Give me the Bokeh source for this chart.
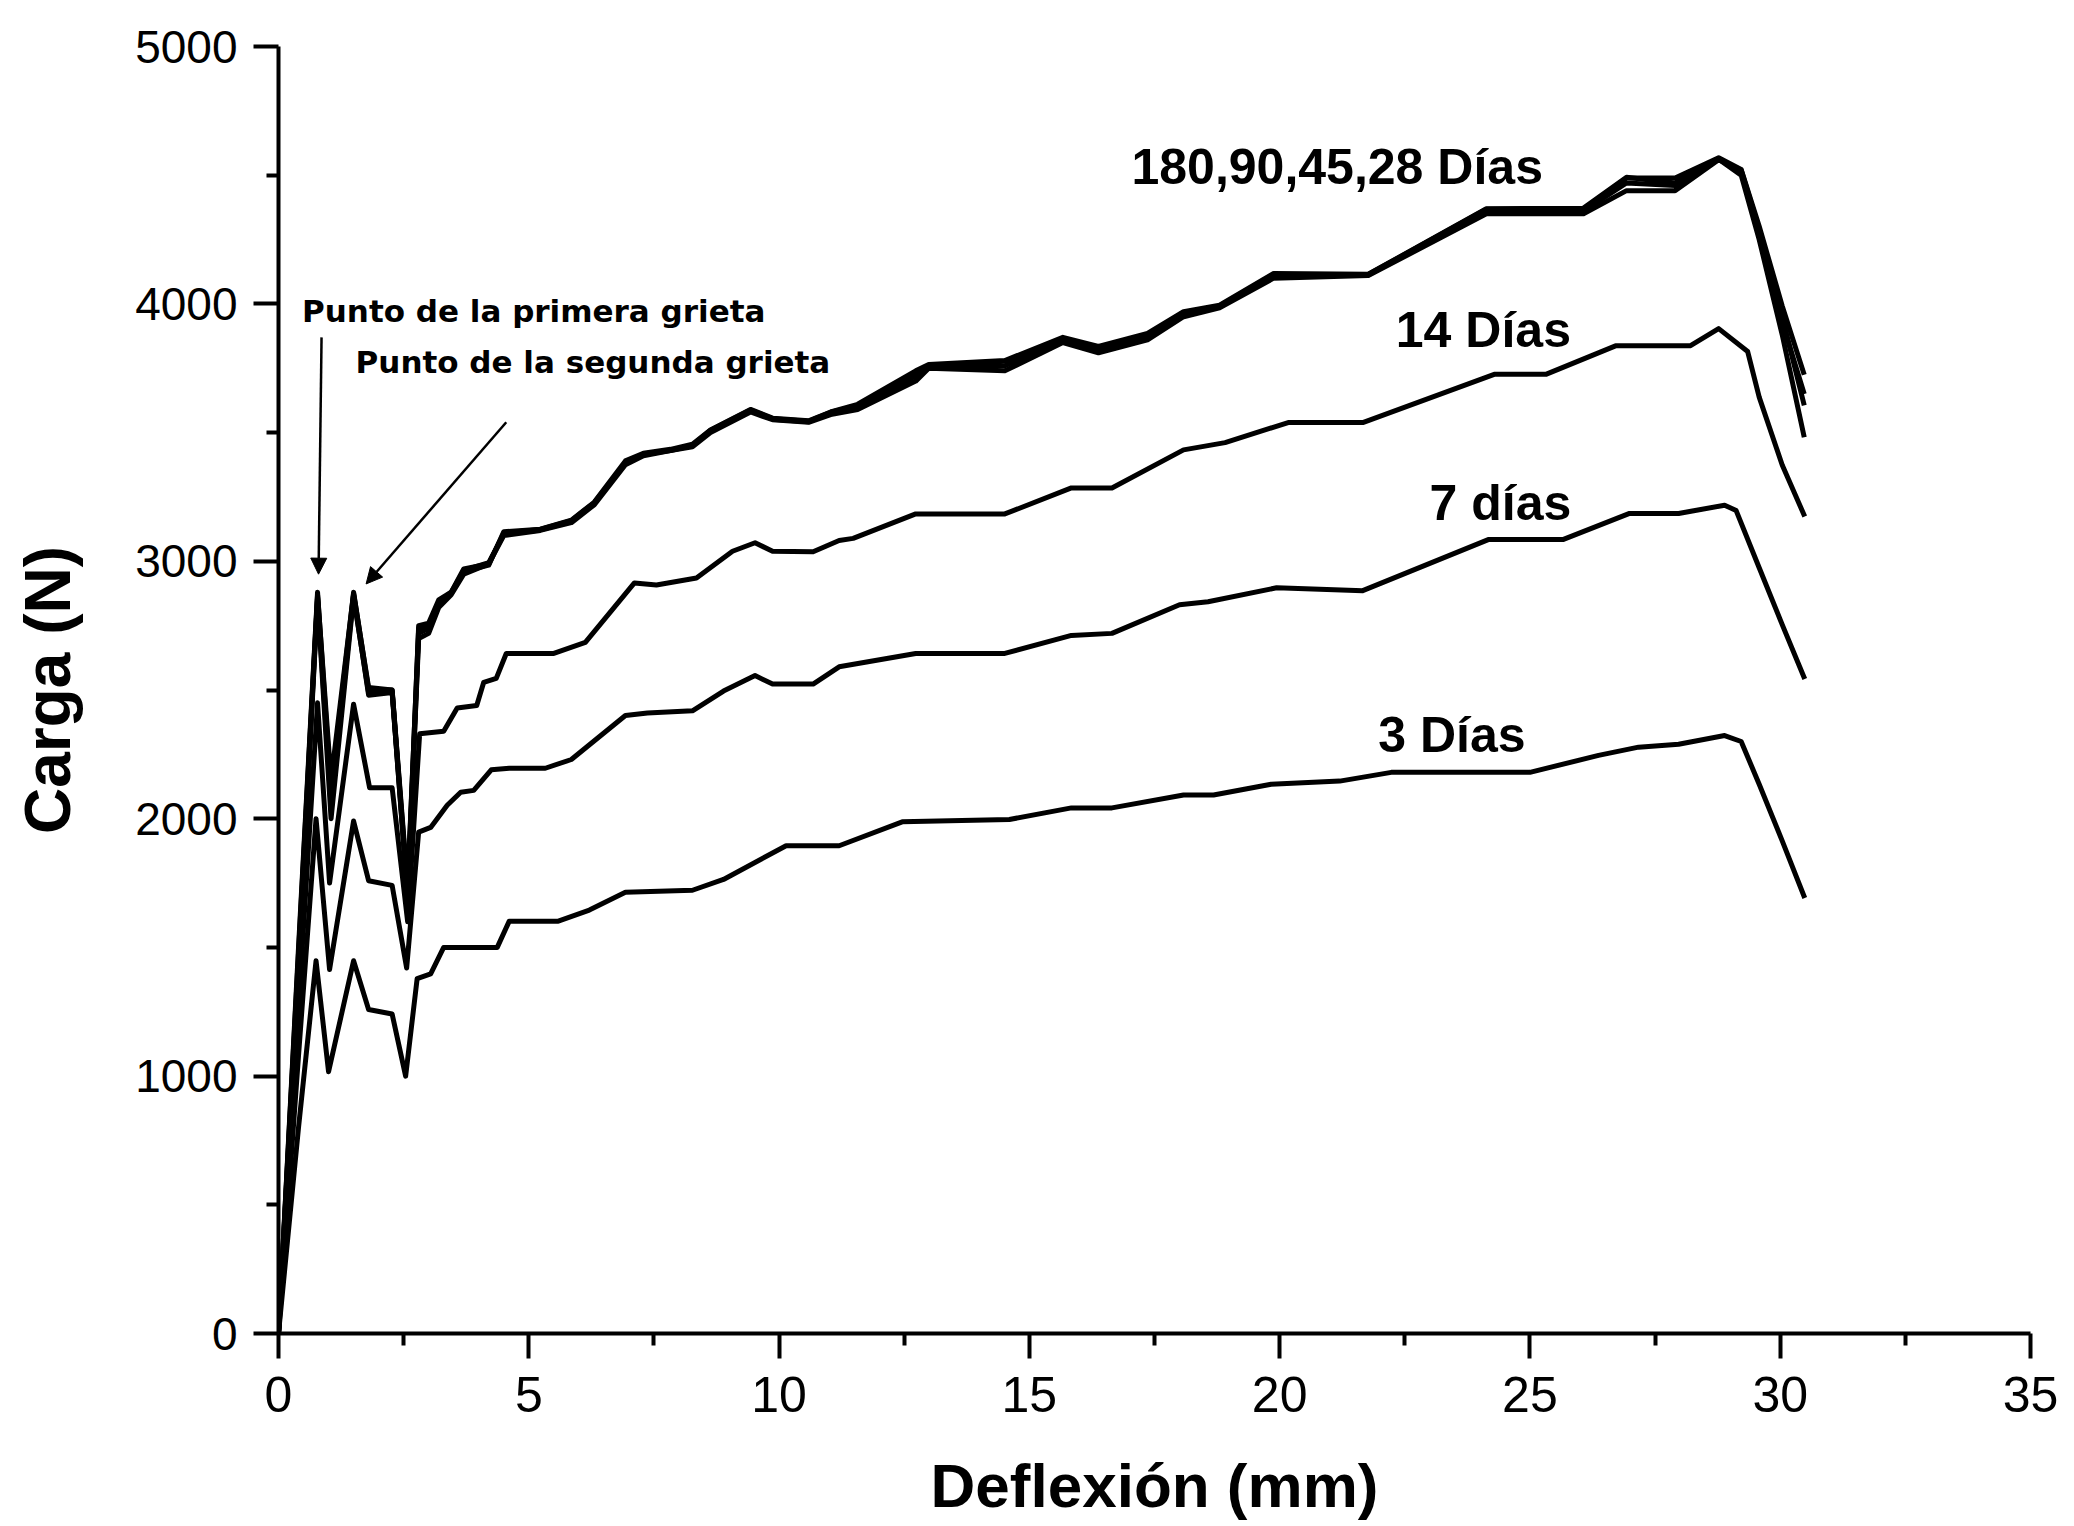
from bokeh.plotting import figure
from bokeh.models import Range1d, FixedTicker, Arrow, NormalHead, Label
from bokeh.embed import file_html
from bokeh.resources import INLINE

# ---------------- data ----------------
x_ticks = [0, 5, 10, 15, 20, 25, 30, 35]
x_minor = [2.5, 7.5, 12.5, 17.5, 22.5, 27.5, 32.5]
y_ticks = [0, 1000, 2000, 3000, 4000, 5000]
y_minor = [500, 1500, 2500, 3500, 4500]

# 180, 90, 45, 28 days (nearly coincident curves)
top_x = [0, 0.4, 0.78, 1.05, 1.5, 1.8, 2.27, 2.58, 2.8, 3.0, 3.2, 3.45, 3.7, 4.2, 4.5,
         5.23, 5.85, 6.31, 6.93, 7.29, 7.83, 8.27, 8.63, 9.43, 9.87, 10.59, 11.03, 11.57,
         12.73, 12.99, 14.51, 15.67, 16.38, 17.36, 18.08, 18.8, 19.88, 21.77, 24.13, 26.07,
         26.93, 27.9, 28.77, 29.22, 29.58, 30.04, 30.48]
d28_y = [0, 1500, 2880, 2100, 2880, 2500, 2500, 1720, 2750, 2760, 2850, 2880, 2970, 2990, 3110,
         3124, 3158, 3228, 3382, 3417, 3432, 3451, 3509, 3588, 3554, 3544, 3579, 3605,
         3734, 3760, 3777, 3864, 3829, 3880, 3967, 3991, 4114, 4114, 4368, 4368,
         4489, 4489, 4568, 4522, 4302, 3992, 3725]
d45_y = [0, 1480, 2870, 2150, 2875, 2510, 2500, 1740, 2740, 2750, 2840, 2880, 2960, 2985, 3115,
         3125, 3160, 3230, 3390, 3420, 3435, 3455, 3510, 3590, 3556, 3546, 3580, 3610,
         3740, 3765, 3780, 3870, 3835, 3885, 3970, 3995, 4118, 4115, 4370, 4372,
         4492, 4470, 4565, 4515, 4280, 3930, 3650]
d90_y = [0, 1450, 2860, 2050, 2870, 2480, 2490, 1700, 2700, 2720, 2820, 2870, 2950, 2990, 3100,
         3120, 3150, 3220, 3375, 3410, 3430, 3445, 3500, 3580, 3550, 3540, 3570, 3590,
         3700, 3750, 3740, 3850, 3810, 3860, 3950, 3985, 4100, 4110, 4350, 4350,
         4440, 4440, 4560, 4520, 4290, 3950, 3606]
d180_y = [0, 1420, 2850, 2000, 2860, 2490, 2495, 1690, 2720, 2740, 2830, 2875, 2965, 2995, 3105,
          3122, 3155, 3225, 3380, 3415, 3430, 3450, 3505, 3585, 3552, 3542, 3575, 3600,
          3720, 3755, 3760, 3858, 3820, 3870, 3960, 3988, 4110, 4112, 4360, 4360,
          4470, 4460, 4562, 4500, 4250, 3880, 3482]

d14_x = [0, 0.4, 0.78, 1.02, 1.5, 1.82, 2.27, 2.58, 2.82, 3.3, 3.57, 3.96, 4.1, 4.35, 4.55,
         5.5, 6.13, 7.11, 7.55, 8.35, 9.07, 9.52, 9.87, 10.68, 11.2, 11.48, 12.73, 14.51,
         15.84, 16.65, 18.08, 18.91, 20.17, 21.66, 24.3, 25.33, 26.71, 28.2, 28.77, 29.35,
         29.58, 30.04, 30.49]
d14_y = [0, 1270, 2450, 1750, 2445, 2120, 2120, 1600, 2330, 2340, 2430, 2440, 2530, 2545, 2642,
         2642, 2685, 2916, 2908, 2935, 3039, 3072, 3039, 3037, 3081, 3089, 3184, 3184,
         3285, 3285, 3433, 3461, 3539, 3539, 3727, 3727, 3837, 3837, 3904, 3815,
         3638, 3374, 3174]

d7_x = [0, 0.4, 0.75, 1.02, 1.5, 1.8, 2.27, 2.56, 2.8, 3.04, 3.37, 3.64, 3.9, 4.25, 4.61,
        5.33, 5.85, 6.93, 7.37, 8.27, 8.89, 9.52, 9.87, 10.68, 11.2, 12.73, 14.51, 15.84,
        16.65, 18.0, 18.57, 19.94, 21.66, 24.18, 25.67, 26.99, 27.97, 28.89, 29.12, 29.58,
        30.04, 30.49]
d7_y = [0, 1080, 2000, 1414, 1991, 1759, 1741, 1420, 1948, 1966, 2052, 2103, 2110, 2190, 2196,
        2196, 2230, 2401, 2411, 2419, 2496, 2556, 2523, 2523, 2590, 2642, 2642, 2712,
        2720, 2831, 2843, 2897, 2886, 3085, 3085, 3186, 3186, 3218, 3197, 2975,
        2754, 2543]

d3_x = [0, 0.4, 0.75, 1.0, 1.5, 1.8, 2.27, 2.54, 2.77, 3.04, 3.3, 4.37, 4.61, 5.59, 6.21,
        6.93, 8.27, 8.89, 10.14, 11.2, 12.46, 14.6, 15.84, 16.65, 18.08, 18.68, 19.83, 21.2,
        22.23, 25.0, 26.37, 27.17, 27.97, 28.89, 29.22, 29.58, 30.04, 30.49]
d3_y = [0, 800, 1448, 1017, 1448, 1259, 1241, 1000, 1379, 1397, 1500, 1500, 1602, 1602, 1645,
        1714, 1722, 1764, 1895, 1895, 1988, 1997, 2042, 2042, 2092, 2092, 2134, 2146,
        2180, 2180, 2246, 2278, 2289, 2323, 2300, 2134, 1914, 1692]

series = [
    (top_x, d180_y), (top_x, d90_y), (top_x, d45_y), (top_x, d28_y),
    (d14_x, d14_y), (d7_x, d7_y), (d3_x, d3_y),
]

curve_labels = ["180,90,45,28 Días", "14 Días", "7 días", "3 Días"]
curve_label_x = [21.15, 24.07, 24.41, 23.44]
curve_label_y = [4530, 3898, 3228, 2327]

x_title = "Deflexión (mm)"
y_title = "Carga (N)"

# ---------------- figure ----------------
FONT = "Liberation Sans"
p = figure(width=2070, height=1522, output_backend="svg", toolbar_location=None,
           x_range=Range1d(0, 35), y_range=Range1d(0, 5000),
           min_border_left=278, min_border_right=40, min_border_top=46,
           min_border_bottom=179)
p.outline_line_color = None
p.grid.visible = False
p.background_fill_color = "white"
p.border_fill_color = "white"

for xs, ys in series:
    p.line(xs, ys, line_color="black", line_width=5, line_join="round")

for ax in (p.xaxis[0], p.yaxis[0]):
    ax.axis_line_width = 4
    ax.axis_line_color = "black"
    ax.major_tick_line_width = 4
    ax.minor_tick_line_width = 4
    ax.major_tick_in = 0
    ax.minor_tick_in = 0
    ax.major_tick_out = 25
    ax.minor_tick_out = 12
    ax.major_label_text_font = FONT
    ax.major_label_text_color = "black"
    ax.axis_label_text_font = FONT
    ax.axis_label_text_font_style = "bold"
    ax.axis_label_text_color = "black"

p.xaxis.major_label_text_font_size = "50px"
p.yaxis.major_label_text_font_size = "46px"
p.xaxis.ticker = FixedTicker(ticks=x_ticks, minor_ticks=x_minor)
p.yaxis.ticker = FixedTicker(ticks=y_ticks, minor_ticks=y_minor)
p.xaxis.axis_label = x_title
p.yaxis.axis_label = y_title
p.xaxis.axis_label_text_font_size = "62px"
p.yaxis.axis_label_text_font_size = "64px"
p.xaxis.major_label_standoff = 18
p.yaxis.major_label_standoff = 16
p.xaxis.axis_label_standoff = 36
p.yaxis.axis_label_standoff = 48

for t, lx, ly in zip(curve_labels, curve_label_x, curve_label_y):
    p.add_layout(Label(x=lx, y=ly, text=t, text_font=FONT, text_font_size="50px",
                       text_font_style="bold", text_align="center",
                       text_baseline="middle", text_color="black"))

p.add_layout(Label(x=0.47, y=3972, text="Punto de la primera grieta", text_font="DejaVu Sans",
                   text_font_size="31px", text_font_style="bold", text_align="left",
                   text_baseline="middle", text_color="black"))
p.add_layout(Label(x=1.54, y=3775, text="Punto de la segunda grieta", text_font="DejaVu Sans",
                   text_font_size="31px", text_font_style="bold", text_align="left",
                   text_baseline="middle", text_color="black"))

p.add_layout(Arrow(end=NormalHead(size=16, fill_color="black", line_color="black"),
                   x_start=0.86, y_start=3870, x_end=0.8, y_end=2950,
                   line_width=2.5, line_color="black"))
p.add_layout(Arrow(end=NormalHead(size=16, fill_color="black", line_color="black"),
                   x_start=4.55, y_start=3540, x_end=1.75, y_end=2912,
                   line_width=2.5, line_color="black"))

open("out.html", "w").write(file_html(p, INLINE))
